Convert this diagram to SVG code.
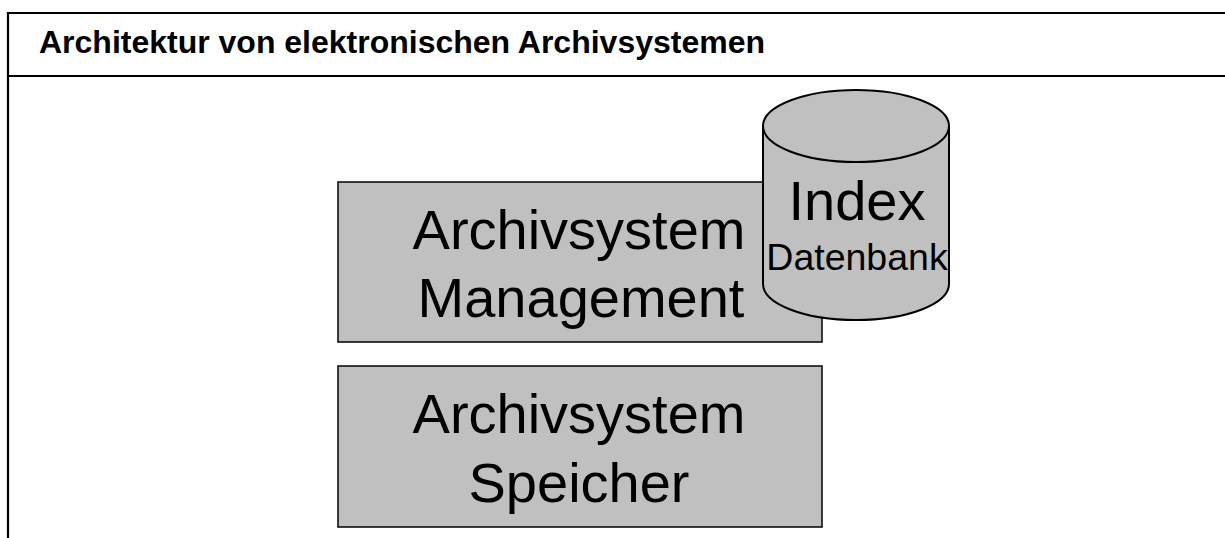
<svg xmlns="http://www.w3.org/2000/svg" width="1225" height="538" viewBox="0 0 1225 538">
<style>
.box{fill:#c0c0c0;stroke:#000;stroke-width:1.5}
.cyl{fill:#c0c0c0;stroke:#000;stroke-width:2}
.frame{fill:none;stroke:#000;stroke-width:2.2}
.big{font-family:"Liberation Sans",Arial,sans-serif;font-size:56px;fill:#000;text-anchor:middle}
.title{font-family:"Liberation Sans",Arial,sans-serif;font-size:31px;font-weight:bold;fill:#000}
</style>
<rect width="1225" height="538" fill="#fff"/>
<g id="frame">
<path class="frame" d="M1230,13 H8 V545"/>
<line class="frame" x1="8" y1="76" x2="1230" y2="76"/>
<text class="title" x="39" y="52.5" textLength="726" lengthAdjust="spacingAndGlyphs">Architektur von elektronischen Archivsystemen</text>
</g>
<g id="management">
<rect class="box" x="338" y="182" width="484" height="160"/>
<text class="big" x="579" y="249">Archivsystem</text>
<text class="big" x="581" y="316.5">Management</text>
</g>
<g id="speicher">
<rect class="box" x="338" y="366" width="484" height="161"/>
<text class="big" x="579" y="433">Archivsystem</text>
<text class="big" x="579" y="501.5">Speicher</text>
</g>
<g id="index-db">
<path class="cyl" d="M763,126 A93,36 0 0 1 949,126 L949,284 A93,36 0 0 1 763,284 Z"/>
<path class="cyl" fill="none" d="M763,126 A93,36 0 0 0 949,126"/>
<text class="big" x="857" y="220">Index</text>
<text class="big" x="857" y="270" style="font-size:37.5px">Datenbank</text>
</g>
<g id="connectors"/>
</svg>
